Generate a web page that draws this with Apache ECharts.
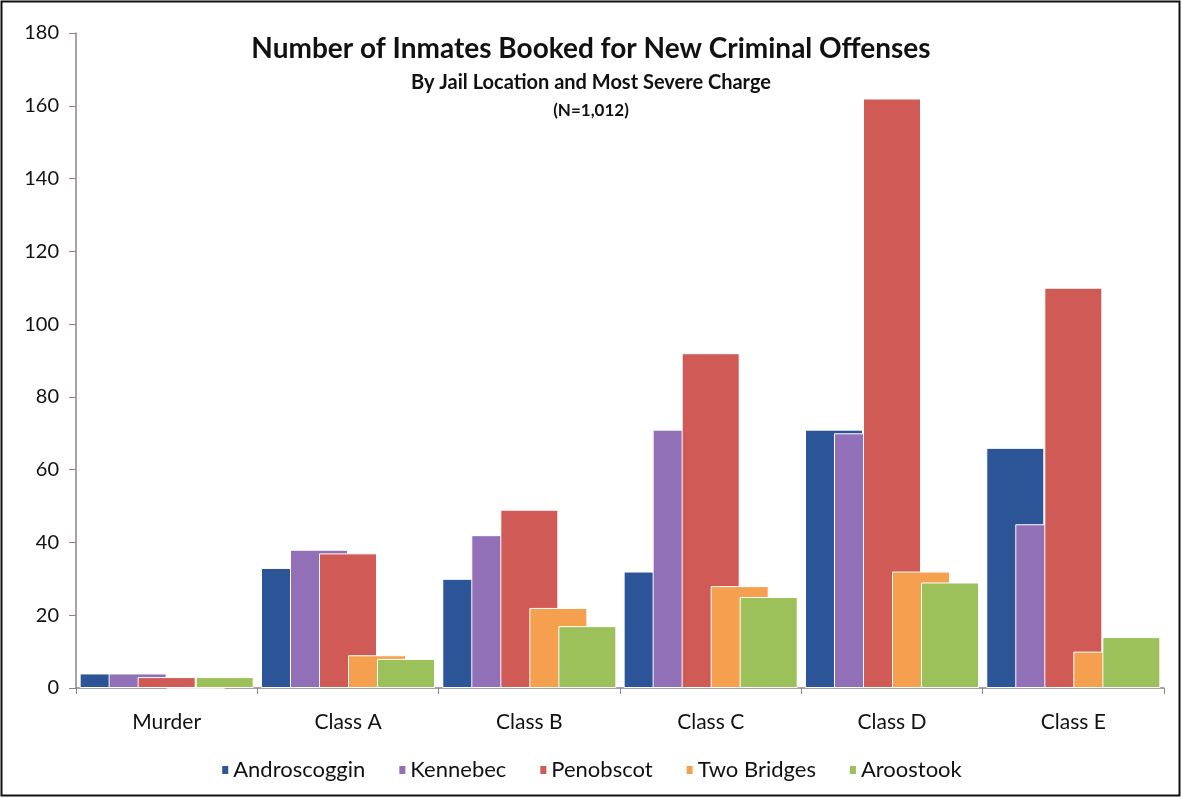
<!DOCTYPE html>
<html>
<head>
<meta charset="utf-8">
<script src="https://cdn.jsdelivr.net/npm/echarts@6/dist/echarts.min.js"></script>
<style>
html,body{margin:0;padding:0;background:#fff;}
#chart{width:1182px;height:798px;}
</style>
</head>
<body>
<div id="chart"></div>
<script>
const categories = ['Murder', 'Class A', 'Class B', 'Class C', 'Class D', 'Class E'];
const androscoggin = [4, 33, 30, 32, 71, 66];
const kennebec = [4, 38, 42, 71, 70, 45];
const penobscot = [3, 37, 49, 92, 162, 110];
const twoBridges = [0, 9, 22, 28, 32, 10];
const aroostook = [3, 8, 17, 25, 29, 14];
const seriesNames = ['Androscoggin', 'Kennebec', 'Penobscot', 'Two Bridges', 'Aroostook'];
const yTicks = [0, 20, 40, 60, 80, 100, 120, 140, 160, 180];

const colors = ['#2B5597', '#9270B8', '#D05A55', '#F5A04E', '#9DC15A'];
const dataSets = [androscoggin, kennebec, penobscot, twoBridges, aroostook];
const font = 'Lato, "Open Sans", sans-serif';

const chart = echarts.init(document.getElementById('chart'), null, {renderer: 'canvas'});
chart.setOption({
  animation: false,
  backgroundColor: '#ffffff',
  title: [
    {text: 'Number of Inmates Booked for New Criminal Offenses', left: 'center', top: 30,
     textStyle: {fontFamily: font, fontSize: 28, fontWeight: 'bold', color: '#111'}},
    {text: 'By Jail Location and Most Severe Charge', left: 'center', top: 68,
     textStyle: {fontFamily: font, fontSize: 20, fontWeight: 'bold', color: '#111'}},
    {text: '(N=1,012)', left: 'center', top: 97,
     textStyle: {fontFamily: font, fontSize: 17, fontWeight: 'bold', color: '#111'}}
  ],
  legend: {
    data: seriesNames,
    bottom: 12,
    left: 'center',
    icon: 'rect',
    itemWidth: 8,
    itemHeight: 10,
    itemGap: 32,
    textStyle: {fontFamily: font, fontSize: 22, color: '#111', padding: [0, 0, 0, -1]}
  },
  grid: {left: 76, right: 18, top: 33, bottom: 110},
  xAxis: {
    type: 'category',
    data: categories,
    axisLine: {lineStyle: {color: '#8c8484', width: 1.5}},
    axisTick: {show: true, length: 6, lineStyle: {color: '#8c8484'}},
    axisLabel: {fontFamily: font, fontSize: 21, color: '#111', margin: 24}
  },
  yAxis: {
    type: 'value',
    min: 0, max: yTicks[yTicks.length - 1], interval: yTicks[1] - yTicks[0],
    axisLine: {show: true, lineStyle: {color: '#8c8484', width: 1.5}},
    axisTick: {show: true, length: 7, lineStyle: {color: '#8c8484'}},
    splitLine: {show: false},
    axisLabel: {fontFamily: font, fontSize: 20, color: '#111', margin: 17}
  },
  series: seriesNames.map((name, i) => ({
    name: name,
    type: 'bar',
    data: dataSets[i],
    barGap: '-50%',
    barCategoryGap: '4%',
    itemStyle: {color: colors[i], borderColor: '#ffffff', borderWidth: 1},
    z: 2 + i
  })),
  graphic: [
    {type: 'rect', shape: {x: 1.5, y: 1.5, width: 1178, height: 794},
     style: {fill: null, stroke: '#111', lineWidth: 2}, silent: true}
  ]
});
</script>
</body>
</html>
